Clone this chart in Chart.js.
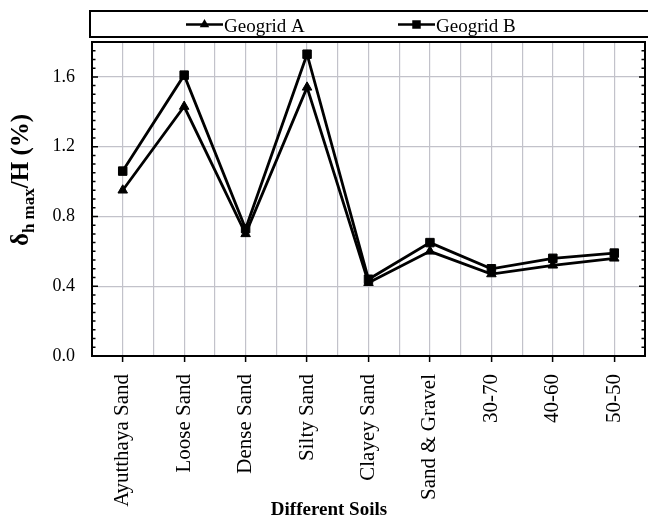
<!DOCTYPE html>
<html lang="en">
<head>
    <meta charset="UTF-8">
    <title>Lateral deformation by soil type</title>
    <script src="https://cdn.jsdelivr.net/npm/chart.js"></script>
    <style>
        html, body {
            margin: 0;
            padding: 0;
            overflow: hidden;
            background: #fff;
        }
    </style>
</head>
<body>
    <canvas id="soilChart" width="652" height="521"></canvas>
    <script>
        const soils = ['Ayutthaya Sand', 'Loose Sand', 'Dense Sand', 'Silty Sand', 'Clayey Sand',
                       'Sand & Gravel', '30-70', '40-60', '50-50'];
        const geogridA = [0.95, 1.43, 0.70, 1.54, 0.42, 0.60, 0.47, 0.52, 0.56];
        const geogridB = [1.06, 1.61, 0.73, 1.73, 0.44, 0.65, 0.50, 0.56, 0.59];
        const yTickLabels = ['0.0', '0.4', '0.8', '1.2', '1.6'];

        const serif = '"Liberation Serif", "Times New Roman", serif';
        const gridGray = '#c2c2ca';

        function isMajor(v) {
            return Math.round(v * 100) % 40 === 0;
        }

        function marker(ctx, style, x, y, r) {
            ctx.beginPath();
            if (style === 'triangle') {
                ctx.moveTo(x, y - r);
                ctx.lineTo(x + r * 0.866, y + r * 0.5);
                ctx.lineTo(x - r * 0.866, y + r * 0.5);
                ctx.closePath();
            } else {
                const s = r * Math.SQRT1_2;
                ctx.rect(x - s, y - s, 2 * s, 2 * s);
            }
            ctx.fill();
        }

        // frame, inward minor ticks, boxed legend and the y title with its subscript
        const decorations = {
            id: 'decorations',
            beforeDatasetsDraw(chart) {
                const ctx = chart.ctx;
                const area = chart.chartArea;
                const y = chart.scales.y;
                ctx.save();
                ctx.strokeStyle = '#000';
                ctx.lineWidth = 1.5;
                y.ticks.forEach(t => {
                    const py = y.getPixelForValue(t.value);
                    const len = isMajor(t.value) ? 6 : 3.5;
                    ctx.beginPath();
                    ctx.moveTo(area.left, py);
                    ctx.lineTo(area.left + len, py);
                    ctx.moveTo(area.right - len, py);
                    ctx.lineTo(area.right, py);
                    ctx.stroke();
                });
                ctx.lineWidth = 2;
                ctx.strokeRect(area.left, area.top, area.right - area.left, area.bottom - area.top);
                ctx.restore();
            },
            afterDraw(chart) {
                const ctx = chart.ctx;
                const area = chart.chartArea;
                ctx.save();

                // legend box
                ctx.strokeStyle = '#000';
                ctx.lineWidth = 2;
                ctx.strokeRect(area.left - 2, 11, 700, 26);
                ctx.fillStyle = '#000';
                ctx.font = '19px ' + serif;
                ctx.textBaseline = 'alphabetic';
                chart.data.datasets.forEach((ds, i) => {
                    const x0 = 186 + i * 212;
                    const ly = 24.5;
                    ctx.lineWidth = 2.5;
                    ctx.beginPath();
                    ctx.moveTo(x0, ly);
                    ctx.lineTo(x0 + 37, ly);
                    ctx.stroke();
                    marker(ctx, ds.pointStyle, x0 + 18.5, ly, ds.pointRadius);
                    ctx.fillText(ds.label, x0 + 38, 32);
                });

                // y axis title: δ h max / H (%)
                const big = 'bold 25px ' + serif;
                const small = 'bold 17px ' + serif;
                const parts = [['δ', big, 0], ['h max', small, 6], ['/H (%)', big, 0]];
                let total = 0;
                parts.forEach(p => { ctx.font = p[1]; p.push(ctx.measureText(p[0]).width); total += p[3]; });
                ctx.translate(28, 180);
                ctx.rotate(-Math.PI / 2);
                let x = -total / 2;
                parts.forEach(p => {
                    ctx.font = p[1];
                    ctx.fillText(p[0], x, p[2]);
                    x += p[3];
                });
                ctx.restore();
            }
        };

        new Chart(document.getElementById('soilChart'), {
            type: 'line',
            data: {
                datasets: [
                    {
                        label: 'Geogrid A',
                        data: geogridA.map((v, i) => ({ x: i, y: v })),
                        borderColor: '#000',
                        backgroundColor: '#000',
                        borderWidth: 2.8,
                        pointStyle: 'triangle',
                        pointRadius: 5.5,
                        pointBackgroundColor: '#000',
                        pointBorderColor: '#000',
                        pointBorderWidth: 1,
                        tension: 0
                    },
                    {
                        label: 'Geogrid B',
                        data: geogridB.map((v, i) => ({ x: i, y: v })),
                        borderColor: '#000',
                        backgroundColor: '#000',
                        borderWidth: 2.8,
                        pointStyle: 'rect',
                        pointRadius: 6,
                        pointBackgroundColor: '#000',
                        pointBorderColor: '#000',
                        pointBorderWidth: 1,
                        tension: 0
                    }
                ]
            },
            options: {
                responsive: false,
                animation: false,
                events: [],
                layout: {
                    padding: { left: 8, right: 2, top: 42, bottom: 0 }
                },
                plugins: {
                    legend: { display: false },
                    tooltip: { enabled: false },
                    // zero-height box so the title sits over the bottom of the x axis labels area
                    title: {
                        display: true,
                        position: 'bottom',
                        text: 'Different Soils',
                        color: '#000',
                        padding: { top: -22.8, bottom: 0 },
                        font: { family: serif, size: 19, weight: 'bold', lineHeight: 1.2 }
                    }
                },
                scales: {
                    x: {
                        type: 'linear',
                        min: -0.5,
                        max: soils.length - 0.5,
                        afterFit(scale) {
                            scale.height = 165;
                            scale.paddingLeft = 0;
                            scale.paddingRight = 0;
                        },
                        ticks: {
                            stepSize: 0.5,
                            autoSkip: false,
                            maxTicksLimit: 100,
                            minRotation: 90,
                            maxRotation: 90,
                            padding: 12,
                            color: '#000',
                            font: { family: serif, size: 21 },
                            callback: v => Number.isInteger(v) ? soils[v] : ''
                        },
                        grid: {
                            color: ctx => ctx.tick && ctx.index > 0 ? gridGray : 'rgba(0,0,0,0)',
                            lineWidth: 1.2,
                            drawTicks: true,
                            tickLength: 6,
                            tickWidth: 1.5,
                            tickColor: ctx => ctx.tick && Number.isInteger(ctx.tick.value) ? '#000' : 'rgba(0,0,0,0)'
                        },
                        border: { color: '#000', width: 2 }
                    },
                    y: {
                        min: 0,
                        max: 1.8,
                        afterFit(scale) {
                            scale.width = 84;
                            scale.paddingTop = 0;
                            scale.paddingBottom = 0;
                        },
                        ticks: {
                            stepSize: 0.05,
                            autoSkip: false,
                            maxTicksLimit: 100,
                            padding: 17,
                            color: '#000',
                            font: { family: serif, size: 18 },
                            callback: (v, i) => i % 8 === 0 ? yTickLabels[i / 8] : ''
                        },
                        grid: {
                            color: ctx => ctx.tick && ctx.tick.value > 0 && isMajor(ctx.tick.value) ? gridGray : 'rgba(0,0,0,0)',
                            lineWidth: 1.2,
                            drawTicks: false
                        },
                        border: { color: '#000', width: 2 }
                    }
                }
            },
            plugins: [decorations]
        });
    </script>
</body>
</html>
